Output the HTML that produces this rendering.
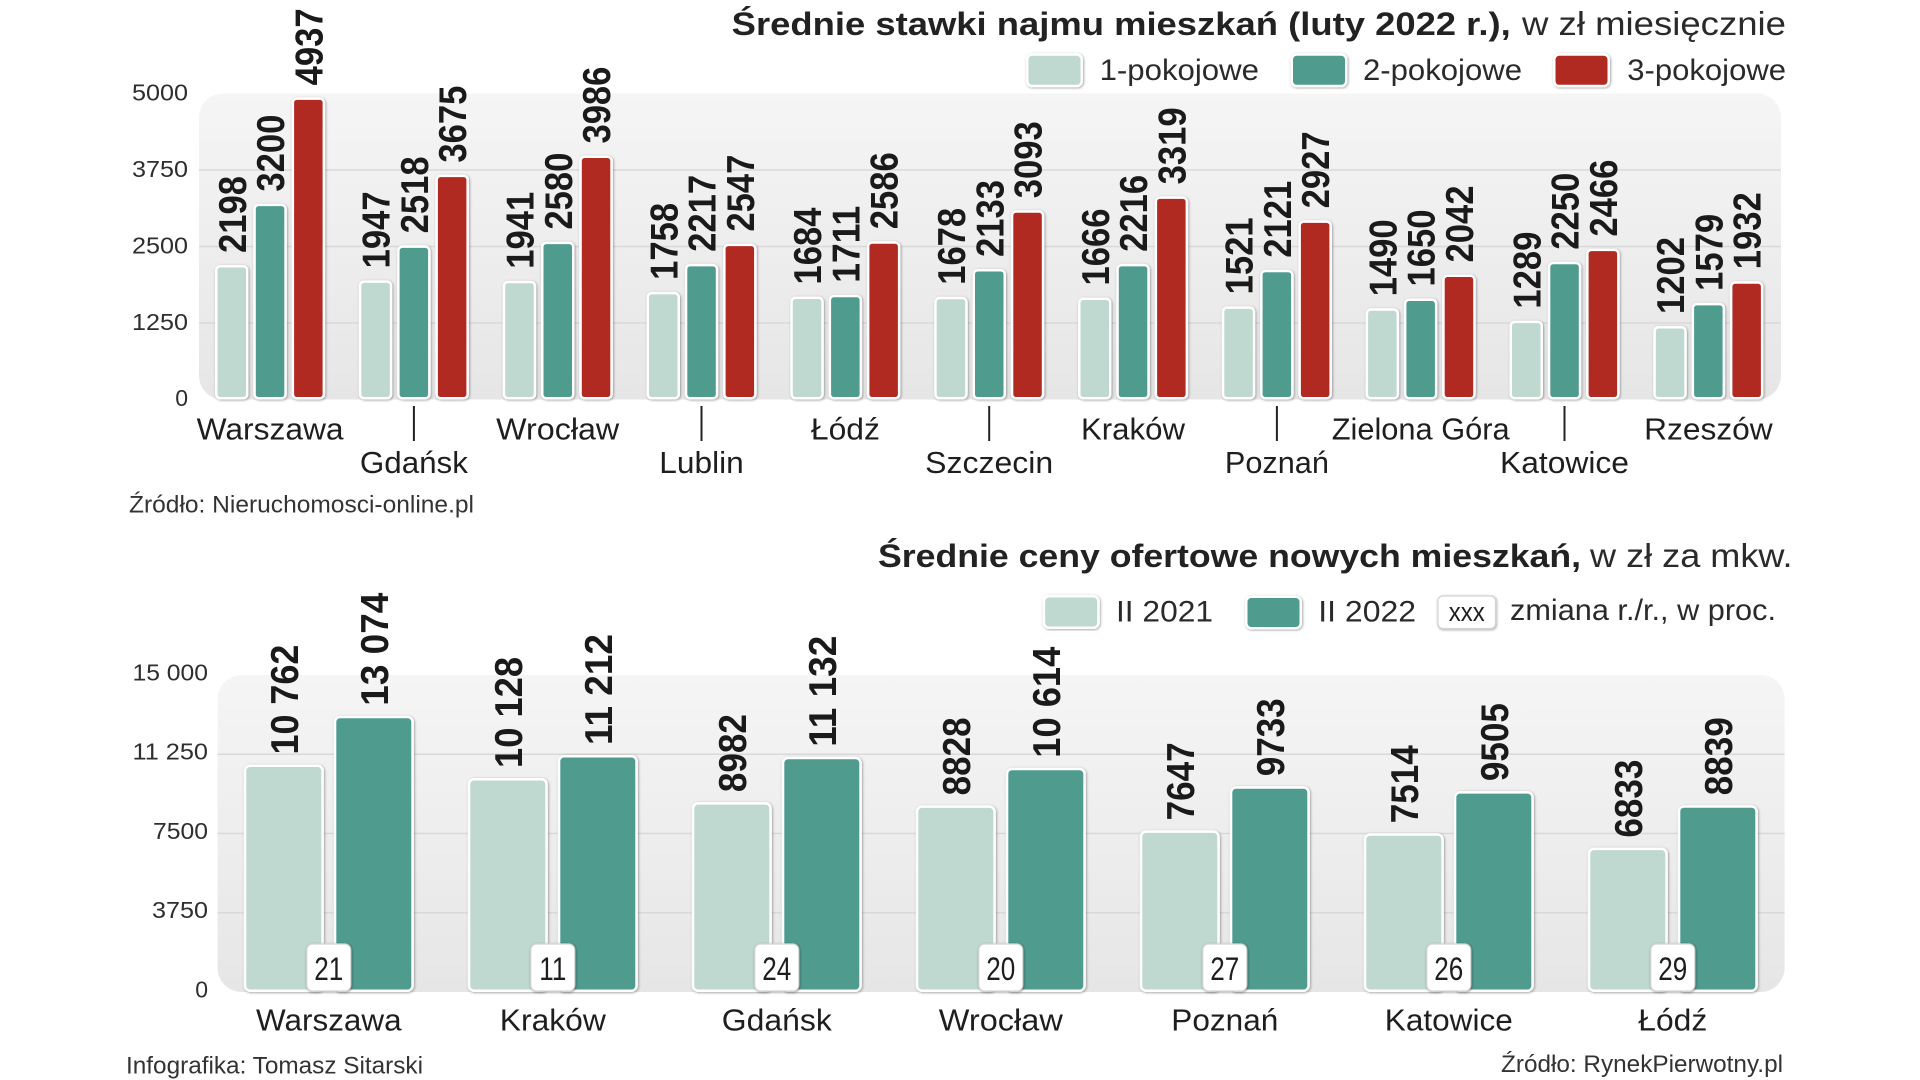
<!DOCTYPE html>
<html>
<head>
<meta charset="utf-8">
<style>
html,body{margin:0;padding:0;background:#fff;}
svg{display:block;}
text{font-family:"Liberation Sans","DejaVu Sans",sans-serif;fill:#1e1e1e;}
.v{font-weight:bold;font-size:39px;fill:#1a1a1a;}
.ax{font-size:23px;fill:#2e2e2e;}
.city{font-size:31px;fill:#1e1e1e;}
.leg{font-size:30px;fill:#2a2a2a;}
.tb{font-size:32px;font-weight:bold;fill:#222;}
.tr{font-size:33px;fill:#2a2a2a;}
.src{font-size:24px;fill:#333;}
.l1{fill:#bfd9d1;stroke:#fff;stroke-width:2.5;filter:url(#sh);}
.l2{fill:#4f9b8e;stroke:#fff;stroke-width:2.5;filter:url(#sh);}
.l3{fill:#b12a22;stroke:#fff;stroke-width:2.5;filter:url(#sh);}
.bx{fill:#fff;stroke:#d4d4d4;stroke-width:1.2;filter:url(#sh2);}
.grid{stroke:#d9d9d9;stroke-width:1.5;}
.chg{font-size:32px;fill:#1e1e1e;}
</style>
</head>
<body>
<svg width="1920" height="1080" viewBox="0 0 1920 1080" xmlns="http://www.w3.org/2000/svg">
<defs>
<linearGradient id="bg" x1="0" y1="0" x2="0" y2="1">
<stop offset="0" stop-color="#f5f5f5"/>
<stop offset="1" stop-color="#e6e6e6"/>
</linearGradient>
<filter id="sh" x="-30%" y="-10%" width="160%" height="120%">
<feDropShadow dx="0.8" dy="0.8" stdDeviation="1.2" flood-color="#000" flood-opacity="0.38"/>
</filter>
<filter id="sh2" x="-30%" y="-30%" width="160%" height="160%">
<feDropShadow dx="0.6" dy="0.8" stdDeviation="1.4" flood-color="#000" flood-opacity="0.4"/>
</filter>
</defs>

<!-- ============ TOP CHART ============ -->
<text class="tb" x="731.7" y="35" textLength="779" lengthAdjust="spacingAndGlyphs">Średnie stawki najmu mieszkań (luty 2022 r.),</text>
<text class="tr" x="1522" y="35" textLength="264" lengthAdjust="spacingAndGlyphs">w zł miesięcznie</text>

<rect class="l1" x="1027.25" y="54.55" width="54.5" height="31.5" rx="5"/>
<text class="leg" x="1099.6" y="80" textLength="159.4" lengthAdjust="spacingAndGlyphs">1-pokojowe</text>
<rect class="l2" x="1291.75" y="54.55" width="54.5" height="31.5" rx="5"/>
<text class="leg" x="1363" y="80" textLength="159" lengthAdjust="spacingAndGlyphs">2-pokojowe</text>
<rect class="l3" x="1554.25" y="54.55" width="54.5" height="31.5" rx="5"/>
<text class="leg" x="1627.3" y="80" textLength="158.7" lengthAdjust="spacingAndGlyphs">3-pokojowe</text>

<rect x="199" y="93.5" width="1582" height="306" rx="24" fill="url(#bg)"/>
<line class="grid" x1="199" y1="170" x2="1781" y2="170"/>
<line class="grid" x1="199" y1="246.5" x2="1781" y2="246.5"/>
<line class="grid" x1="199" y1="323" x2="1781" y2="323"/>

<text class="ax" x="188" y="100.5" text-anchor="end" textLength="56" lengthAdjust="spacingAndGlyphs">5000</text>
<text class="ax" x="188" y="177" text-anchor="end" textLength="56" lengthAdjust="spacingAndGlyphs">3750</text>
<text class="ax" x="188" y="253.5" text-anchor="end" textLength="56" lengthAdjust="spacingAndGlyphs">2500</text>
<text class="ax" x="188" y="330" text-anchor="end" textLength="56" lengthAdjust="spacingAndGlyphs">1250</text>
<text class="ax" x="188" y="406" text-anchor="end">0</text>

<!-- bars top -->
<rect class="l1" x="216.25" y="266.23" width="31" height="132.02" rx="4"/>
<rect class="l2" x="254.55" y="204.91" width="31" height="193.34" rx="4"/>
<rect class="l3" x="292.85" y="98.61" width="31" height="299.64" rx="4"/>

<rect class="l1" x="360.05" y="281.59" width="31" height="116.66" rx="4"/>
<rect class="l2" x="398.35" y="246.65" width="31" height="151.60" rx="4"/>
<rect class="l3" x="436.65" y="175.84" width="31" height="222.41" rx="4"/>

<rect class="l1" x="503.95" y="281.96" width="31" height="116.29" rx="4"/>
<rect class="l2" x="542.25" y="242.85" width="31" height="155.40" rx="4"/>
<rect class="l3" x="580.55" y="156.81" width="31" height="241.44" rx="4"/>

<rect class="l1" x="647.75" y="293.16" width="31" height="105.09" rx="4"/>
<rect class="l2" x="686.05" y="265.07" width="31" height="133.18" rx="4"/>
<rect class="l3" x="724.35" y="244.87" width="31" height="153.38" rx="4"/>

<rect class="l1" x="791.55" y="297.69" width="31" height="100.56" rx="4"/>
<rect class="l2" x="829.85" y="296.04" width="31" height="102.21" rx="4"/>
<rect class="l3" x="868.15" y="242.49" width="31" height="155.76" rx="4"/>

<rect class="l1" x="935.45" y="298.06" width="31" height="100.19" rx="4"/>
<rect class="l2" x="973.75" y="270.21" width="31" height="128.04" rx="4"/>
<rect class="l3" x="1012.05" y="211.46" width="31" height="186.79" rx="4"/>

<rect class="l1" x="1079.25" y="298.79" width="31" height="99.46" rx="4"/>
<rect class="l2" x="1117.55" y="265.13" width="31" height="133.12" rx="4"/>
<rect class="l3" x="1155.85" y="197.63" width="31" height="200.62" rx="4"/>

<rect class="l1" x="1223.05" y="307.66" width="31" height="90.59" rx="4"/>
<rect class="l2" x="1261.35" y="270.94" width="31" height="127.31" rx="4"/>
<rect class="l3" x="1299.65" y="221.62" width="31" height="176.63" rx="4"/>

<rect class="l1" x="1366.85" y="309.56" width="31" height="88.69" rx="4"/>
<rect class="l2" x="1405.15" y="299.77" width="31" height="98.48" rx="4"/>
<rect class="l3" x="1443.45" y="275.78" width="31" height="122.47" rx="4"/>

<rect class="l1" x="1510.75" y="321.86" width="31" height="76.39" rx="4"/>
<rect class="l2" x="1549.05" y="263.05" width="31" height="135.20" rx="4"/>
<rect class="l3" x="1587.35" y="249.83" width="31" height="148.42" rx="4"/>

<rect class="l1" x="1654.55" y="327.19" width="31" height="71.06" rx="4"/>
<rect class="l2" x="1692.85" y="304.12" width="31" height="94.13" rx="4"/>
<rect class="l3" x="1731.15" y="282.51" width="31" height="115.74" rx="4"/>

<!-- value labels top -->
<text class="v" transform="translate(245.75 252.98) rotate(-90)" textLength="77" lengthAdjust="spacingAndGlyphs">2198</text>
<text class="v" transform="translate(284.05 191.66) rotate(-90)" textLength="77" lengthAdjust="spacingAndGlyphs">3200</text>
<text class="v" transform="translate(322.35 85.36) rotate(-90)" textLength="77" lengthAdjust="spacingAndGlyphs">4937</text>

<text class="v" transform="translate(389.55 268.34) rotate(-90)" textLength="77" lengthAdjust="spacingAndGlyphs">1947</text>
<text class="v" transform="translate(427.85 233.40) rotate(-90)" textLength="77" lengthAdjust="spacingAndGlyphs">2518</text>
<text class="v" transform="translate(466.15 162.59) rotate(-90)" textLength="77" lengthAdjust="spacingAndGlyphs">3675</text>

<text class="v" transform="translate(533.45 268.71) rotate(-90)" textLength="77" lengthAdjust="spacingAndGlyphs">1941</text>
<text class="v" transform="translate(571.75 229.60) rotate(-90)" textLength="77" lengthAdjust="spacingAndGlyphs">2580</text>
<text class="v" transform="translate(610.05 143.56) rotate(-90)" textLength="77" lengthAdjust="spacingAndGlyphs">3986</text>

<text class="v" transform="translate(677.25 279.91) rotate(-90)" textLength="77" lengthAdjust="spacingAndGlyphs">1758</text>
<text class="v" transform="translate(715.55 251.82) rotate(-90)" textLength="77" lengthAdjust="spacingAndGlyphs">2217</text>
<text class="v" transform="translate(753.85 231.62) rotate(-90)" textLength="77" lengthAdjust="spacingAndGlyphs">2547</text>

<text class="v" transform="translate(821.05 284.44) rotate(-90)" textLength="77" lengthAdjust="spacingAndGlyphs">1684</text>
<text class="v" transform="translate(859.35 282.79) rotate(-90)" textLength="77" lengthAdjust="spacingAndGlyphs">1711</text>
<text class="v" transform="translate(897.65 229.24) rotate(-90)" textLength="77" lengthAdjust="spacingAndGlyphs">2586</text>

<text class="v" transform="translate(964.95 284.81) rotate(-90)" textLength="77" lengthAdjust="spacingAndGlyphs">1678</text>
<text class="v" transform="translate(1003.25 256.96) rotate(-90)" textLength="77" lengthAdjust="spacingAndGlyphs">2133</text>
<text class="v" transform="translate(1041.55 198.21) rotate(-90)" textLength="77" lengthAdjust="spacingAndGlyphs">3093</text>

<text class="v" transform="translate(1108.75 285.54) rotate(-90)" textLength="77" lengthAdjust="spacingAndGlyphs">1666</text>
<text class="v" transform="translate(1147.05 251.88) rotate(-90)" textLength="77" lengthAdjust="spacingAndGlyphs">2216</text>
<text class="v" transform="translate(1185.35 184.38) rotate(-90)" textLength="77" lengthAdjust="spacingAndGlyphs">3319</text>

<text class="v" transform="translate(1252.55 294.41) rotate(-90)" textLength="77" lengthAdjust="spacingAndGlyphs">1521</text>
<text class="v" transform="translate(1290.85 257.69) rotate(-90)" textLength="77" lengthAdjust="spacingAndGlyphs">2121</text>
<text class="v" transform="translate(1329.15 208.37) rotate(-90)" textLength="77" lengthAdjust="spacingAndGlyphs">2927</text>

<text class="v" transform="translate(1396.35 296.31) rotate(-90)" textLength="77" lengthAdjust="spacingAndGlyphs">1490</text>
<text class="v" transform="translate(1434.65 286.52) rotate(-90)" textLength="77" lengthAdjust="spacingAndGlyphs">1650</text>
<text class="v" transform="translate(1472.95 262.53) rotate(-90)" textLength="77" lengthAdjust="spacingAndGlyphs">2042</text>

<text class="v" transform="translate(1540.25 308.61) rotate(-90)" textLength="77" lengthAdjust="spacingAndGlyphs">1289</text>
<text class="v" transform="translate(1578.55 249.80) rotate(-90)" textLength="77" lengthAdjust="spacingAndGlyphs">2250</text>
<text class="v" transform="translate(1616.85 236.58) rotate(-90)" textLength="77" lengthAdjust="spacingAndGlyphs">2466</text>

<text class="v" transform="translate(1684.05 313.94) rotate(-90)" textLength="77" lengthAdjust="spacingAndGlyphs">1202</text>
<text class="v" transform="translate(1722.35 290.87) rotate(-90)" textLength="77" lengthAdjust="spacingAndGlyphs">1579</text>
<text class="v" transform="translate(1760.65 269.26) rotate(-90)" textLength="77" lengthAdjust="spacingAndGlyphs">1932</text>

<!-- city labels top -->
<g stroke="#222" stroke-width="2">
<line x1="413.9" y1="406" x2="413.9" y2="441"/>
<line x1="701.5" y1="406" x2="701.5" y2="441"/>
<line x1="989.2" y1="406" x2="989.2" y2="441"/>
<line x1="1276.9" y1="406" x2="1276.9" y2="441"/>
<line x1="1564.5" y1="406" x2="1564.5" y2="441"/>
</g>
<text class="city" x="270.1" y="439.5" text-anchor="middle" textLength="147" lengthAdjust="spacingAndGlyphs">Warszawa</text>
<text class="city" x="413.9" y="473" text-anchor="middle" textLength="108" lengthAdjust="spacingAndGlyphs">Gdańsk</text>
<text class="city" x="557.7" y="439.5" text-anchor="middle" textLength="123" lengthAdjust="spacingAndGlyphs">Wrocław</text>
<text class="city" x="701.5" y="473" text-anchor="middle" textLength="84.5" lengthAdjust="spacingAndGlyphs">Lublin</text>
<text class="city" x="845.4" y="439.5" text-anchor="middle" textLength="69" lengthAdjust="spacingAndGlyphs">Łódź</text>
<text class="city" x="989.2" y="473" text-anchor="middle" textLength="128" lengthAdjust="spacingAndGlyphs">Szczecin</text>
<text class="city" x="1133" y="439.5" text-anchor="middle" textLength="104" lengthAdjust="spacingAndGlyphs">Kraków</text>
<text class="city" x="1276.9" y="473" text-anchor="middle" textLength="104" lengthAdjust="spacingAndGlyphs">Poznań</text>
<text class="city" x="1420.7" y="439.5" text-anchor="middle" textLength="178" lengthAdjust="spacingAndGlyphs">Zielona Góra</text>
<text class="city" x="1564.5" y="473" text-anchor="middle" textLength="129" lengthAdjust="spacingAndGlyphs">Katowice</text>
<text class="city" x="1708.4" y="439.5" text-anchor="middle" textLength="128.6" lengthAdjust="spacingAndGlyphs">Rzeszów</text>

<text class="src" x="129" y="512.5" textLength="345" lengthAdjust="spacingAndGlyphs">Źródło: Nieruchomosci-online.pl</text>

<!-- ============ BOTTOM CHART ============ -->
<text class="tb" x="878" y="567" textLength="703" lengthAdjust="spacingAndGlyphs">Średnie ceny ofertowe nowych mieszkań,</text>
<text class="tr" x="1590" y="567" textLength="202.5" lengthAdjust="spacingAndGlyphs">w zł za mkw.</text>

<rect class="l1" x="1043.95" y="596.25" width="54.5" height="31.5" rx="5"/>
<text class="leg" x="1116" y="621.7" textLength="97" lengthAdjust="spacingAndGlyphs">II 2021</text>
<rect class="l2" x="1246.25" y="596.75" width="54.5" height="31.5" rx="5"/>
<text class="leg" x="1318.3" y="621.7" textLength="97.7" lengthAdjust="spacingAndGlyphs">II 2022</text>
<rect class="bx" x="1438" y="596" width="57.5" height="32.5" rx="5"/>
<text x="1466.8" y="621" text-anchor="middle" font-size="27" fill="#1e1e1e" textLength="36" lengthAdjust="spacingAndGlyphs">xxx</text>
<text class="leg" x="1510" y="620" textLength="266" lengthAdjust="spacingAndGlyphs">zmiana r./r., w proc.</text>

<rect x="217.6" y="675" width="1567" height="317" rx="24" fill="url(#bg)"/>
<line class="grid" x1="217.6" y1="754.25" x2="1784.6" y2="754.25"/>
<line class="grid" x1="217.6" y1="833.5" x2="1784.6" y2="833.5"/>
<line class="grid" x1="217.6" y1="912.75" x2="1784.6" y2="912.75"/>

<text class="ax" x="208" y="680.3" text-anchor="end" textLength="75.5" lengthAdjust="spacingAndGlyphs">15 000</text>
<text class="ax" x="208" y="759.5" text-anchor="end" textLength="75.5" lengthAdjust="spacingAndGlyphs">11 250</text>
<text class="ax" x="208" y="838.8" text-anchor="end" textLength="55" lengthAdjust="spacingAndGlyphs">7500</text>
<text class="ax" x="208" y="918" text-anchor="end" textLength="56" lengthAdjust="spacingAndGlyphs">3750</text>
<text class="ax" x="208" y="997.3" text-anchor="end">0</text>

<!-- bars bottom -->
<rect class="l1" x="245.05" y="765.81" width="77.5" height="224.94" rx="5"/>
<rect class="l2" x="335.05" y="716.95" width="77.5" height="273.80" rx="5"/>
<rect class="l1" x="469.05" y="779.21" width="77.5" height="211.54" rx="5"/>
<rect class="l2" x="559.05" y="756.30" width="77.5" height="234.45" rx="5"/>
<rect class="l1" x="693.05" y="803.43" width="77.5" height="187.32" rx="5"/>
<rect class="l2" x="783.05" y="757.99" width="77.5" height="232.76" rx="5"/>
<rect class="l1" x="917.05" y="806.68" width="77.5" height="184.07" rx="5"/>
<rect class="l2" x="1007.05" y="768.94" width="77.5" height="221.81" rx="5"/>
<rect class="l1" x="1141.05" y="831.64" width="77.5" height="159.11" rx="5"/>
<rect class="l2" x="1231.05" y="787.56" width="77.5" height="203.19" rx="5"/>
<rect class="l1" x="1365.05" y="834.45" width="77.5" height="156.30" rx="5"/>
<rect class="l2" x="1455.05" y="792.38" width="77.5" height="198.37" rx="5"/>
<rect class="l1" x="1589.05" y="848.85" width="77.5" height="141.90" rx="5"/>
<rect class="l2" x="1679.05" y="806.45" width="77.5" height="184.30" rx="5"/>

<!-- value labels bottom -->
<text class="v" transform="translate(297.8 754.56) rotate(-90)" textLength="110" lengthAdjust="spacingAndGlyphs">10 762</text>
<text class="v" transform="translate(387.8 705.70) rotate(-90)" textLength="113" lengthAdjust="spacingAndGlyphs">13 074</text>
<text class="v" transform="translate(521.8 767.96) rotate(-90)" textLength="111" lengthAdjust="spacingAndGlyphs">10 128</text>
<text class="v" transform="translate(611.8 745.05) rotate(-90)" textLength="111" lengthAdjust="spacingAndGlyphs">11 212</text>
<text class="v" transform="translate(745.8 792.18) rotate(-90)" textLength="78" lengthAdjust="spacingAndGlyphs">8982</text>
<text class="v" transform="translate(835.8 746.74) rotate(-90)" textLength="111" lengthAdjust="spacingAndGlyphs">11 132</text>
<text class="v" transform="translate(969.8 795.43) rotate(-90)" textLength="78" lengthAdjust="spacingAndGlyphs">8828</text>
<text class="v" transform="translate(1059.8 757.69) rotate(-90)" textLength="111" lengthAdjust="spacingAndGlyphs">10 614</text>
<text class="v" transform="translate(1193.8 820.39) rotate(-90)" textLength="78" lengthAdjust="spacingAndGlyphs">7647</text>
<text class="v" transform="translate(1283.8 776.31) rotate(-90)" textLength="78" lengthAdjust="spacingAndGlyphs">9733</text>
<text class="v" transform="translate(1417.8 823.20) rotate(-90)" textLength="78" lengthAdjust="spacingAndGlyphs">7514</text>
<text class="v" transform="translate(1507.8 781.13) rotate(-90)" textLength="78" lengthAdjust="spacingAndGlyphs">9505</text>
<text class="v" transform="translate(1641.8 837.60) rotate(-90)" textLength="78" lengthAdjust="spacingAndGlyphs">6833</text>
<text class="v" transform="translate(1731.8 795.20) rotate(-90)" textLength="78" lengthAdjust="spacingAndGlyphs">8839</text>

<!-- change boxes -->
<rect class="bx" x="306.8" y="944" width="44" height="47" rx="6"/>
<text class="chg" x="328.8" y="980" text-anchor="middle" textLength="29" lengthAdjust="spacingAndGlyphs">21</text>
<rect class="bx" x="530.8" y="944" width="44" height="47" rx="6"/>
<text class="chg" x="552.8" y="980" text-anchor="middle" textLength="27" lengthAdjust="spacingAndGlyphs">11</text>
<rect class="bx" x="754.8" y="944" width="44" height="47" rx="6"/>
<text class="chg" x="776.8" y="980" text-anchor="middle" textLength="29" lengthAdjust="spacingAndGlyphs">24</text>
<rect class="bx" x="978.8" y="944" width="44" height="47" rx="6"/>
<text class="chg" x="1000.8" y="980" text-anchor="middle" textLength="29" lengthAdjust="spacingAndGlyphs">20</text>
<rect class="bx" x="1202.8" y="944" width="44" height="47" rx="6"/>
<text class="chg" x="1224.8" y="980" text-anchor="middle" textLength="29" lengthAdjust="spacingAndGlyphs">27</text>
<rect class="bx" x="1426.8" y="944" width="44" height="47" rx="6"/>
<text class="chg" x="1448.8" y="980" text-anchor="middle" textLength="29" lengthAdjust="spacingAndGlyphs">26</text>
<rect class="bx" x="1650.8" y="944" width="44" height="47" rx="6"/>
<text class="chg" x="1672.8" y="980" text-anchor="middle" textLength="29" lengthAdjust="spacingAndGlyphs">29</text>

<!-- city labels bottom -->
<text class="city" x="328.8" y="1030.5" text-anchor="middle" textLength="145.5" lengthAdjust="spacingAndGlyphs">Warszawa</text>
<text class="city" x="552.8" y="1030.5" text-anchor="middle" textLength="106" lengthAdjust="spacingAndGlyphs">Kraków</text>
<text class="city" x="776.8" y="1030.5" text-anchor="middle" textLength="110" lengthAdjust="spacingAndGlyphs">Gdańsk</text>
<text class="city" x="1000.8" y="1030.5" text-anchor="middle" textLength="124" lengthAdjust="spacingAndGlyphs">Wrocław</text>
<text class="city" x="1224.8" y="1030.5" text-anchor="middle" textLength="107" lengthAdjust="spacingAndGlyphs">Poznań</text>
<text class="city" x="1448.8" y="1030.5" text-anchor="middle" textLength="128" lengthAdjust="spacingAndGlyphs">Katowice</text>
<text class="city" x="1672.8" y="1030.5" text-anchor="middle" textLength="69" lengthAdjust="spacingAndGlyphs">Łódź</text>

<text class="src" x="126" y="1073.5" textLength="297" lengthAdjust="spacingAndGlyphs">Infografika: Tomasz Sitarski</text>
<text class="src" x="1783" y="1072" text-anchor="end" textLength="282" lengthAdjust="spacingAndGlyphs">Źródło: RynekPierwotny.pl</text>
</svg>
</body>
</html>
